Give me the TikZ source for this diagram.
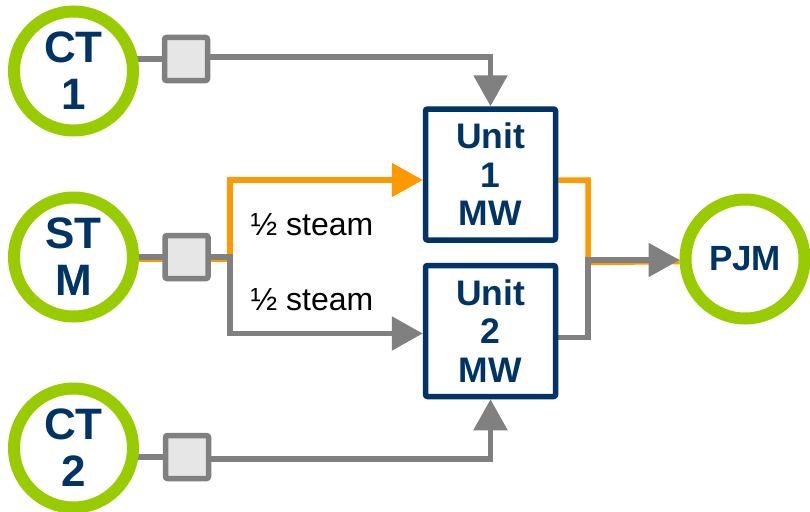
\documentclass[tikz,border=0pt]{standalone}
\usepackage{fontspec}
\setmainfont{Liberation Sans}
\usetikzlibrary{arrows.meta, positioning, backgrounds}
\definecolor{ringgreen}{HTML}{99CC00}
\definecolor{unitblue}{HTML}{003366}
\definecolor{pipegray}{HTML}{808080}
\definecolor{steamorange}{HTML}{FF9900}
\definecolor{boxfill}{HTML}{E6E6E6}

\begin{document}
\begin{tikzpicture}[x=1pt, y=-1pt, >={Triangle[length=31pt,width=33pt]},
  station/.style={draw=ringgreen, fill=white, line width=12pt, circle, minimum size=119pt, inner sep=0pt, text=unitblue, align=center, font=\fontsize{44}{47}\selectfont\bfseries},
  breaker/.style={draw=pipegray, fill=boxfill, line width=5.5pt, rounded corners=2pt, minimum size=43pt, inner sep=0pt},
  unit/.style={draw=unitblue, line width=5.5pt, rounded corners=2pt, minimum width=130pt, minimum height=131pt, text=unitblue, align=center, font=\fontsize{35.5}{38.5}\selectfont\bfseries},
  pipe/.style={draw=pipegray, line width=5.5pt},
  steam/.style={draw=steamorange, line width=5.5pt}]
\useasboundingbox (0,0) rectangle (810,511);

% generators
\node[station] (ct1) at (73.5,71) {CT\\1};
\node[station] (stm) at (73.5,257) {ST\\M};
\node[station] (ct2) at (73.5,448) {CT\\2};
\node[station, font=\fontsize{35}{38}\selectfont\bfseries] (pjm) at (745,259) {PJM};

% breakers
\node[breaker] (brk1) at (186,59) {};
\node[breaker] (brk2) at (186.5,257) {};
\node[breaker] (brk3) at (187,457) {};

% units
\node[unit] (unit1) at (490.5,174.5) {Unit\\1\\MW};
\node[unit, below=20pt of unit1] (unit2) {Unit\\2\\MW};

\coordinate (split) at (230,257);
\coordinate (join) at (588,260);

\node[font=\fontsize{32}{36}\selectfont] (half1) at (312,225) {½ steam};
\node[font=\fontsize{32}{36}\selectfont] (half2) at (312,300) {½ steam};

\begin{scope}[on background layer]
% steam path
\draw[steam] ([yshift=-2.5pt]stm.center) -- ([yshift=-2.5pt]brk2.center);
\draw[steam, ->] ([yshift=-2.5pt]brk2.east) -| (split) |- ([yshift=-5.5pt]unit1.west);
\draw[pipe] (stm.center) -- (brk2.center);
\draw[pipe, ->] (brk2) -| (split) |- ([yshift=-2.5pt]unit2.west);

% combustion turbines
\draw[pipe] (ct1.center |- brk1) -- (brk1.center);
\draw[pipe, ->] ([yshift=2pt]brk1.east) -| (unit1);
\draw[pipe] (ct2.center |- brk3) -- (brk3.center);
\draw[pipe, ->] ([yshift=-2pt]brk3.east) -| (unit2);

% output to grid
\draw[steam] ([yshift=-5.5pt]unit1.east) -| ([yshift=-2.5pt]join) -- ([yshift=-2.5pt]pjm.west);
\draw[pipe, ->] ([yshift=-6.5pt]unit2.east) -| (join) -- (join -| pjm.west);
\end{scope}
\end{tikzpicture}
\end{document}
